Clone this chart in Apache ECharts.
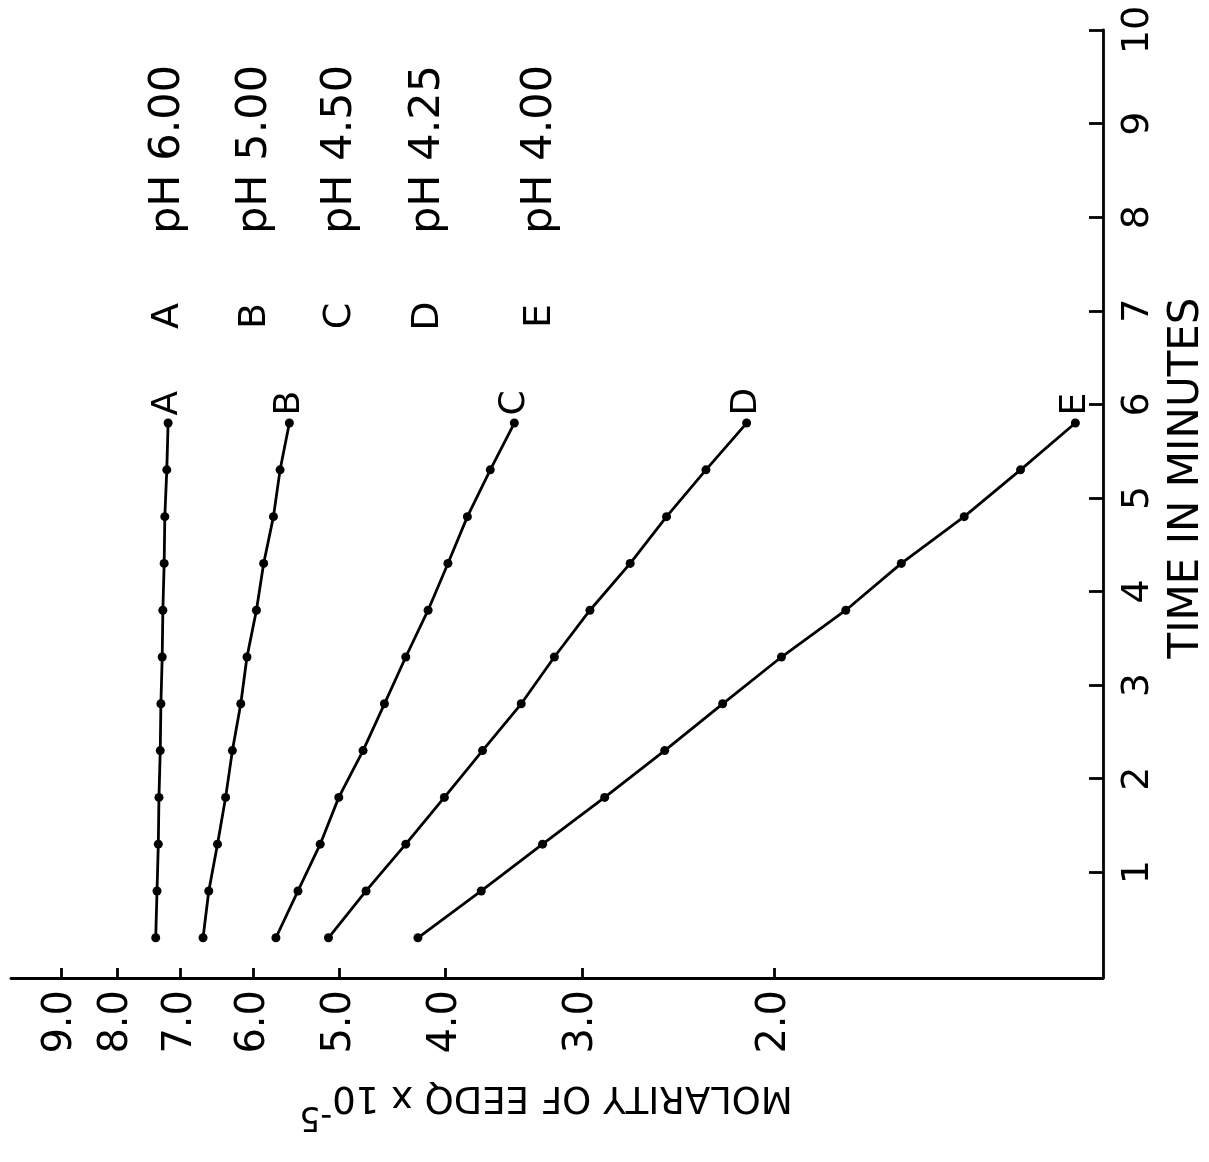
<!DOCTYPE html>
<html>
<head>
<meta charset="utf-8">
<script src="https://cdn.jsdelivr.net/npm/echarts@6/dist/echarts.min.js"></script>
<style>
  html, body { margin: 0; padding: 0; background: #fff; }
  #chart { width: 1209px; height: 1162px; }
</style>
</head>
<body>
<div id="chart"></div>
<script>
// Curves and their pH conditions
const curveKeys = ['A', 'B', 'C', 'D', 'E'];
const phLabels = ['pH 6.00', 'pH 5.00', 'pH 4.50', 'pH 4.25', 'pH 4.00'];

// Sampling times (minutes)
const times = [0.3, 0.8, 1.3, 1.8, 2.3, 2.8, 3.3, 3.8, 4.3, 4.8, 5.3, 5.8];

// Molarity of EEDQ (x 10^-5) at each sampling time
const molA = [7.37, 7.35, 7.33, 7.32, 7.30, 7.29, 7.27, 7.26, 7.24, 7.23, 7.20, 7.18];
const molB = [6.67, 6.59, 6.47, 6.36, 6.27, 6.16, 6.08, 5.96, 5.87, 5.75, 5.67, 5.56];
const molC = [5.72, 5.46, 5.21, 5.01, 4.76, 4.55, 4.35, 4.15, 3.98, 3.82, 3.64, 3.46];
const molD = [5.12, 4.73, 4.35, 4.01, 3.70, 3.41, 3.18, 2.95, 2.71, 2.51, 2.31, 2.12];
const molE = [4.24, 3.71, 3.26, 2.86, 2.52, 2.23, 1.97, 1.72, 1.53, 1.34, 1.19, 1.06];

// Axis tick values
const timeTicks = [1, 2, 3, 4, 5, 6, 7, 8, 9, 10];
const molarityTicks = [2, 3, 4, 5, 6, 7, 8, 9];

const seriesValues = [molA, molB, molC, molD, molE];

const FONT = 'DejaVu Sans';
const INK = '#000';

// Legend column positions (the whole figure is drawn turned on its side)
const legendX = [168, 255, 340, 428, 540];
const legendLetterY = 316;
const legendTextY = 234;

const graphics = [];
curveKeys.forEach((k, i) => {
  graphics.push({
    type: 'text', x: legendX[i], y: legendLetterY, rotation: Math.PI / 2,
    style: { text: k, fontFamily: FONT, fontSize: 38, fill: INK, align: 'center', verticalAlign: 'middle' }
  });
  graphics.push({
    type: 'text', x: legendX[i], y: legendTextY, rotation: Math.PI / 2,
    style: { text: phLabels[i], fontFamily: FONT, fontSize: 43, fill: INK, align: 'left', verticalAlign: 'middle' }
  });
});

const lastIdx = times.length - 1;

const series = curveKeys.map((k, i) => ({
  name: k,
  type: 'line',
  data: times.map((t, j) => [seriesValues[i][j], t]),
  symbol: 'circle',
  symbolSize: 9,
  showSymbol: true,
  itemStyle: { color: INK },
  lineStyle: { color: INK, width: 2.8 },
  label: {
    show: true,
    position: 'top',
    distance: 3,
    rotate: 90,
    align: 'left',
    verticalAlign: 'middle',
    fontFamily: FONT,
    fontSize: 36,
    color: INK,
    formatter: p => (p.dataIndex === lastIdx ? k : '')
  },
  emphasis: { disabled: true }
}));

const chart = echarts.init(document.getElementById('chart'), null, { renderer: 'canvas' });
chart.setOption({
  animation: false,
  backgroundColor: '#fff',
  grid: { left: 11, right: 106, top: 30, bottom: 184, containLabel: false, outerBoundsMode: 'none' },
  xAxis: {
    type: 'log',
    logBase: 10,
    min: 1,
    max: 10,
    inverse: true,
    position: 'bottom',
    axisLine: { show: true, onZero: false, lineStyle: { color: INK, width: 2.8 } },
    axisTick: { show: true, inside: true, length: 10, lineStyle: { color: INK, width: 2.8 }, customValues: molarityTicks },
    minorTick: { show: false },
    splitLine: { show: false },
    axisLabel: {
      show: true, rotate: 90, margin: 12, color: INK, fontFamily: FONT, fontSize: 40,
      customValues: molarityTicks,
      formatter: v => Number(v).toFixed(1)
    },
    name: '{m|MOLARITY OF EEDQ x 10}{s|-5}',
    nameLocation: 'middle',
    nameRotate: 180,
    nameGap: 100,
    nameTextStyle: {
      color: INK,
      padding: [0, 0, 0, 22],
      rich: {
        m: { fontFamily: FONT, fontSize: 37, color: INK, lineHeight: 54, verticalAlign: 'bottom' },
        s: { fontFamily: FONT, fontSize: 33, color: INK, lineHeight: 35, verticalAlign: 'top' }
      }
    }
  },
  yAxis: {
    type: 'value',
    position: 'right',
    min: -0.13,
    max: 10,
    axisLine: { show: true, onZero: false, lineStyle: { color: INK, width: 2.8 } },
    axisTick: { show: true, inside: true, length: 14, lineStyle: { color: INK, width: 2.8 }, customValues: timeTicks },
    splitLine: { show: false },
    axisLabel: {
      show: true, rotate: 90, margin: 16, color: INK, fontFamily: FONT, fontSize: 38,
      customValues: timeTicks,
      formatter: v => String(Math.round(v))
    },
    name: 'TIME IN MINUTES',
    nameLocation: 'middle',
    nameRotate: 90,
    nameGap: 63,
    nameMoveOverlap: false,
    nameTextStyle: { color: INK, fontFamily: FONT, fontSize: 42, padding: [0, 0, 0, 52] }
  },
  graphic: graphics,
  series: series
});
</script>
</body>
</html>
